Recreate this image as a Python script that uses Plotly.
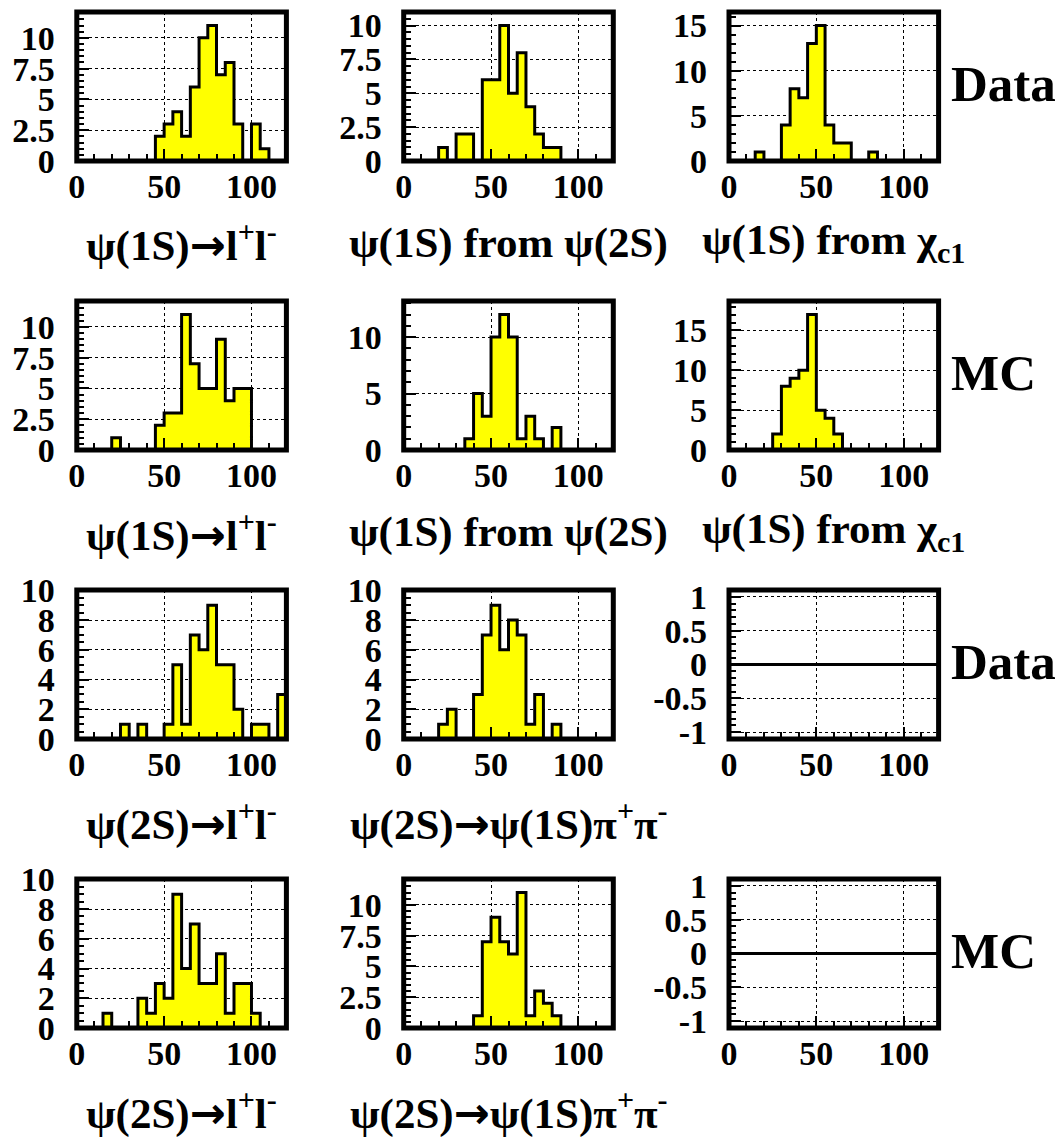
import plotly.graph_objects as go

# ---------------- data (counts per 5-unit bin, 0..120) ----------------
bin_edges = [0, 5, 10, 15, 20, 25, 30, 35, 40, 45, 50, 55, 60, 65, 70, 75, 80, 85, 90, 95, 100, 105, 110, 115, 120]

data_psi1s_ll        = [0, 0, 0, 0, 0, 0, 0, 0, 0, 2, 3, 4, 2, 6, 10, 11, 7, 8, 3, 0, 3, 1, 0, 0]
data_psi1s_from_2s   = [0, 0, 0, 0, 1, 0, 2, 2, 0, 6, 6, 10, 5, 8, 4, 2, 1, 1, 0, 0, 0, 0, 0, 0]
data_psi1s_from_chi  = [0, 0, 0, 1, 0, 0, 4, 8, 7, 13, 15, 4, 2, 2, 0, 0, 1, 0, 0, 0, 0, 0, 0, 0]
mc_psi1s_ll          = [0, 0, 0, 0, 1, 0, 0, 0, 0, 2, 3, 3, 11, 7, 5, 5, 9, 4, 5, 5, 0, 0, 0, 0]
mc_psi1s_from_2s     = [0, 0, 0, 0, 0, 0, 0, 1, 5, 3, 10, 12, 10, 1, 3, 1, 0, 2, 0, 0, 0, 0, 0, 0]
mc_psi1s_from_chi    = [0, 0, 0, 0, 0, 2, 8, 9, 10, 17, 5, 4, 2, 0, 0, 0, 0, 0, 0, 0, 0, 0, 0, 0]
data_psi2s_ll        = [0, 0, 0, 0, 0, 1, 0, 1, 0, 0, 1, 5, 1, 7, 6, 9, 5, 5, 2, 0, 1, 1, 0, 3]
data_psi2s_pipi      = [0, 0, 0, 0, 1, 2, 0, 0, 3, 7, 9, 6, 8, 7, 1, 3, 0, 1, 0, 0, 0, 0, 0, 0]
data_empty           = [0, 0, 0, 0, 0, 0, 0, 0, 0, 0, 0, 0, 0, 0, 0, 0, 0, 0, 0, 0, 0, 0, 0, 0]
mc_psi2s_ll          = [0, 0, 0, 1, 0, 0, 0, 2, 1, 3, 2, 9, 4, 7, 3, 3, 5, 1, 3, 3, 1, 0, 0, 0]
mc_psi2s_pipi        = [0, 0, 0, 0, 0, 0, 0, 0, 1, 7, 9, 7, 6, 11, 1, 3, 2, 1, 0, 0, 0, 0, 0, 0]
mc_empty             = [0, 0, 0, 0, 0, 0, 0, 0, 0, 0, 0, 0, 0, 0, 0, 0, 0, 0, 0, 0, 0, 0, 0, 0]

empty_tickvals = [-1, -0.5, 0, 0.5, 1]
empty_ticktext = ["-1", "-0.5", "0", "0.5", "1"]

ARROW = "<span style='font-family:DejaVu Sans'>→</span>"
x_titles = [
    ["ψ(1S)" + ARROW + "l<sup>+</sup>l<sup>-</sup>", "ψ(1S) from ψ(2S)", "ψ(1S) from χ<sub>c1</sub>"],
    ["ψ(1S)" + ARROW + "l<sup>+</sup>l<sup>-</sup>", "ψ(1S) from ψ(2S)", "ψ(1S) from χ<sub>c1</sub>"],
    ["ψ(2S)" + ARROW + "l<sup>+</sup>l<sup>-</sup>", "ψ(2S)" + ARROW + "ψ(1S)π<sup>+</sup>π<sup>-</sup>", None],
    ["ψ(2S)" + ARROW + "l<sup>+</sup>l<sup>-</sup>", "ψ(2S)" + ARROW + "ψ(1S)π<sup>+</sup>π<sup>-</sup>", None],
]
row_labels = ["Data", "MC", "Data", "MC"]

panels = [
    [data_psi1s_ll, data_psi1s_from_2s, data_psi1s_from_chi],
    [mc_psi1s_ll, mc_psi1s_from_2s, mc_psi1s_from_chi],
    [data_psi2s_ll, data_psi2s_pipi, data_empty],
    [mc_psi2s_ll, mc_psi2s_pipi, mc_empty],
]

# ---------------- layout geometry (pixels) ----------------
W, H = 1062, 1138
col_x0 = [76.8, 403.7, 729.0]
col_w = 209.6
row_top = [12, 301, 590, 879]
row_h = 149

FONT = "Liberation Serif"

fig = go.Figure()
annotations = []
shapes = []

def px2x(p):
    return p / W

def px2y(p):
    return 1 - p / H

idx = 0
for r in range(4):
    for c in range(3):
        idx += 1
        counts = panels[r][c]
        xa = "x" if idx == 1 else f"x{idx}"
        ya = "y" if idx == 1 else f"y{idx}"
        xk = "xaxis" if idx == 1 else f"xaxis{idx}"
        yk = "yaxis" if idx == 1 else f"yaxis{idx}"
        empty = max(counts) == 0

        yvals = list(counts) + [counts[-1]]
        fig.add_trace(go.Scatter(
            x=bin_edges, y=yvals, mode="lines", line_shape="hv",
            line=dict(color="black", width=3),
            fill=None if empty else "tozeroy", fillcolor="#ffff00",
            xaxis=xa, yaxis=ya, showlegend=False, hoverinfo="skip"))

        mx = max(counts)
        yextra = {}
        if empty:
            yrange = [-1.1, 1.1]
            ydt, ymin_dt = 0.5, 0.1
            yextra = dict(tickmode="array", tickvals=empty_tickvals, ticktext=empty_ticktext)
        else:
            top = mx * 1.1
            if mx <= 9:
                ydt, ymin_dt = 2, 0.5
                top = 10.02
            elif mx <= 12 and not (r == 1 and c == 1):
                ydt, ymin_dt = 2.5, 0.5
            else:
                ydt, ymin_dt = 5, 1
            yrange = [0, top]

        x0p = col_x0[c]
        x1p = col_x0[c] + col_w
        y0p = row_top[r] + row_h
        y1p = row_top[r]

        fig.layout[xk] = dict(
            domain=[px2x(x0p), px2x(x1p)], anchor=ya, range=[0, 120],
            tick0=0, dtick=50, ticks="inside", ticklen=12, tickwidth=1.5,
            tickcolor="black", showgrid=True, gridcolor="black", gridwidth=1,
            griddash="3px,3px", zeroline=False, showline=False, automargin=False,
            minor=dict(dtick=10, tick0=0, ticks="inside", ticklen=7,
                       tickwidth=1.5, tickcolor="black", showgrid=False),
            tickfont=dict(family=FONT, size=34, color="black", weight="bold"),
            ticklabelstandoff=2, fixedrange=True)
        fig.layout[yk] = dict(
            domain=[px2y(y0p), px2y(y1p)], anchor=xa, range=yrange,
            tick0=0, dtick=ydt, ticks="inside", ticklen=12, tickwidth=1.5,
            tickcolor="black", showgrid=True, gridcolor="black", gridwidth=1,
            griddash="3px,3px", zeroline=False, showline=False, automargin=False,
            minor=dict(dtick=ymin_dt, tick0=0, ticks="inside", ticklen=7,
                       tickwidth=1.5, tickcolor="black", showgrid=False),
            tickfont=dict(family=FONT, size=34, color="black", weight="bold"),
            ticklabelstandoff=21, fixedrange=True, **yextra)

        shapes.append(dict(type="rect", xref=f"{xa} domain", yref=f"{ya} domain",
                           x0=0, x1=1, y0=0, y1=1, layer="above",
                           line=dict(color="black", width=5)))

        t = x_titles[r][c]
        if t:
            annotations.append(dict(
                text=t, x=px2x((x0p + x1p) / 2), y=px2y(y0p + 82),
                xref="paper", yref="paper", xanchor="center", yanchor="middle",
                showarrow=False,
                font=dict(family=FONT, size=43, color="black", weight="bold")))

    annotations.append(dict(
        text=row_labels[r], x=px2x(949), y=px2y(row_top[r] + row_h / 2 - 3),
        xref="paper", yref="paper", xanchor="left", yanchor="middle",
        showarrow=False,
        font=dict(family=FONT, size=51, color="black", weight="bold")))

fig.update_layout(
    width=W, height=H, margin=dict(l=0, r=0, t=0, b=0, pad=0),
    paper_bgcolor="white", plot_bgcolor="white",
    annotations=annotations, shapes=shapes, showlegend=False)

fig.write_html("out.html", config={"displayModeBar": False},
               post_script="document.body.style.margin='0';document.body.style.overflow='hidden';")
